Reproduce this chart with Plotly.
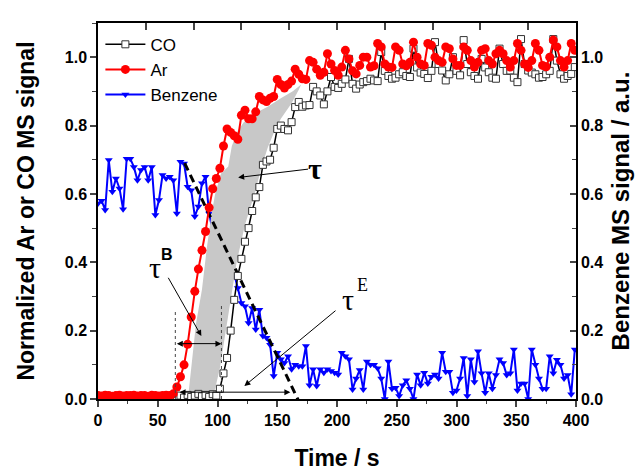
import plotly.graph_objects as go

# ---------------- data ----------------
time_s = list(range(0, 400, 3))  # sampling every 3 s (134 samples)

ar_signal = [
    0.010, 0.009, 0.011, 0.010, 0.008, 0.010, 0.011, 0.009, 0.010, 0.010,
    0.011, 0.009, 0.010, 0.010, 0.008, 0.011, 0.010, 0.009, 0.010, 0.011,
    0.010, 0.015, 0.035, 0.065, 0.100, 0.160, 0.240, 0.315, 0.380, 0.435,
    0.490, 0.560, 0.615, 0.645, 0.675, 0.740, 0.790, 0.780, 0.770, 0.760,
    0.830, 0.845, 0.820, 0.820, 0.840, 0.885, 0.875, 0.870, 0.880, 0.885,
    0.935, 0.920, 0.910, 0.920, 0.930, 0.965, 0.950, 0.937, 0.935, 0.990,
    0.985, 0.965, 0.947, 0.956, 1.010, 0.980, 0.961, 0.947, 0.971, 1.020,
    0.995, 0.960, 0.951, 0.976, 1.000, 1.000, 0.971, 0.975, 1.040, 1.030,
    0.980, 0.971, 0.970, 1.030, 1.020, 0.980, 0.975, 0.985, 1.044, 1.000,
    0.980, 0.976, 1.040, 1.035, 1.000, 0.990, 0.985, 1.030, 1.025, 0.995,
    0.976, 0.976, 1.030, 1.020, 0.990, 0.971, 0.985, 1.020, 1.025, 0.990,
    0.980, 1.010, 1.020, 1.010, 0.990, 0.971, 0.990, 1.040, 1.020, 0.980,
    0.970, 0.990, 1.040, 1.020, 0.976, 0.972, 1.000, 1.050, 1.030, 0.990,
    0.971, 0.990, 1.040, 1.020,
]

co_signal = [
    0.0, 0.0, 0.0, 0.0, 0.0, 0.0, 0.0, 0.0, 0.0, 0.0,
    0.0, 0.0, 0.0, 0.0, 0.0, 0.0, 0.0, 0.0, 0.0, 0.0,
    0.0, 0.0, 0.005, 0.010, 0.004, 0.012, 0.006, 0.010, 0.015, 0.008,
    0.012, 0.006, 0.014, 0.010, 0.030, 0.075, 0.120, 0.200, 0.290, 0.360,
    0.410, 0.460, 0.500, 0.550, 0.590, 0.620, 0.685, 0.695, 0.700, 0.735,
    0.790, 0.800, 0.790, 0.786, 0.810, 0.854, 0.869, 0.855, 0.859, 0.860,
    0.913, 0.900, 0.888, 0.862, 0.900, 0.942, 0.913, 0.910, 0.922, 0.935,
    0.995, 0.922, 0.908, 0.920, 0.927, 0.930, 0.937, 0.932, 0.930, 1.015,
    0.960, 0.945, 0.937, 0.940, 0.950, 0.956, 0.945, 0.942, 1.025, 0.970,
    0.955, 0.951, 0.939, 0.960, 1.044, 0.980, 0.961, 0.932, 0.950, 1.000,
    0.960, 0.947, 1.050, 0.980, 0.956, 0.945, 0.937, 0.995, 0.970, 0.956,
    0.940, 0.937, 1.025, 0.980, 0.960, 0.961, 0.940, 0.927, 1.053, 0.980,
    0.961, 0.955, 0.950, 0.940, 0.942, 0.950, 0.960, 1.053, 0.990, 0.950,
    0.937, 0.945, 0.951, 0.971,
]

benzene_signal = [
    0.572, 0.580, 0.553, 0.699, 0.606, 0.645, 0.616, 0.555, 0.703, 0.703,
    0.679, 0.640, 0.670, 0.679, 0.640, 0.679, 0.538, 0.582, 0.655, 0.645,
    0.650, 0.640, 0.543, 0.694, 0.689, 0.621, 0.611, 0.534, 0.563, 0.631,
    0.650, 0.543, 0.490, 0.460, 0.430, 0.410, 0.390, 0.375, 0.364, 0.325,
    0.281, 0.271, 0.222, 0.266, 0.203, 0.261, 0.184, 0.179, 0.159, 0.067,
    0.135, 0.116, 0.105, 0.125, 0.087, 0.100, 0.096, 0.096, 0.155, 0.040,
    0.087, 0.038, 0.087, 0.077, 0.087, 0.082, 0.077, 0.072, 0.135, 0.125,
    0.116, 0.028, 0.060, 0.085, 0.028, 0.110, 0.100, 0.100, 0.090, 0.060,
    0.000, 0.110, 0.030, 0.033, 0.009, 0.040, 0.055, 0.030, 0.000, 0.072,
    0.040, 0.077, 0.045, 0.065, 0.072, 0.060, 0.135, 0.080, 0.080, 0.018,
    0.025, 0.060, 0.120, 0.009, 0.116, 0.050, 0.140, 0.075, 0.018, 0.075,
    0.030, 0.070, 0.116, 0.105, 0.070, 0.075, 0.145, 0.025, 0.045, 0.045,
    0.000, 0.145, 0.100, 0.060, 0.030, 0.030, 0.125, 0.075, 0.115, 0.100,
    0.060, 0.070, 0.014, 0.145,
]

# shaded region (tau) between Ar and CO responses
tau_area_t = [76, 79, 82, 87, 91, 95, 98, 103, 109, 112, 117, 122, 131, 142, 153, 163, 170,
              168, 162, 153, 148, 142, 137, 131, 123, 116, 110, 106, 102, 98, 96, 78]
tau_area_y = [0.025, 0.12, 0.22, 0.32, 0.44, 0.54, 0.60, 0.66, 0.68, 0.74, 0.785, 0.81, 0.835,
              0.855, 0.88, 0.90, 0.92,
              0.905, 0.865, 0.82, 0.786, 0.735, 0.68, 0.60, 0.51, 0.40, 0.27, 0.17, 0.09,
              0.03, 0.01, 0.01]

# linear decay guide for benzene
benzene_fit_t = [72.5, 168.5]
benzene_fit_y = [0.69, -0.01]

# tau^B / tau^E markers (time positions)
tauB_start, tauB_end = 64.7, 103.3
tauE_start, tauE_end = 67.0, 161.0

# ---------------- figure ----------------
fig = go.Figure()

fig.add_trace(go.Scatter(
    x=time_s, y=benzene_signal, name="Benzene", mode="lines+markers",
    line=dict(color="#0000ff", width=2),
    marker=dict(symbol="triangle-down", size=7, color="#0000ff"),
    legendrank=3, yaxis="y2"))

fig.add_trace(go.Scatter(
    x=tau_area_t, y=tau_area_y, fill="toself", mode="lines",
    fillcolor="#c8c8c8", line=dict(width=0, color="#c8c8c8"),
    showlegend=False, hoverinfo="skip", yaxis="y2"))

fig.add_trace(go.Scatter(
    x=benzene_fit_t, y=benzene_fit_y, mode="lines",
    line=dict(color="black", width=3, dash="8px,5px"),
    showlegend=False, hoverinfo="skip", yaxis="y2"))

fig.add_trace(go.Scatter(
    x=time_s, y=co_signal, name="CO", mode="lines+markers",
    line=dict(color="black", width=1.5),
    marker=dict(symbol="square", size=7, color="white",
                line=dict(color="#333333", width=1)),
    legendrank=1, yaxis="y2"))

fig.add_trace(go.Scatter(
    x=time_s, y=ar_signal, name="Ar", mode="lines+markers",
    line=dict(color="#ff0000", width=2),
    marker=dict(symbol="circle", size=9, color="#ff0000"),
    legendrank=2, yaxis="y2"))

# empty traces so the left and top axes exist as subplots
fig.add_trace(go.Scatter(x=[], y=[], showlegend=False, hoverinfo="skip"))
fig.add_trace(go.Scatter(x=[], y=[], xaxis="x2", showlegend=False, hoverinfo="skip"))

tick_font = dict(family="Arial, Liberation Sans", size=16, color="black", weight="bold")
title_font = dict(family="Arial, Liberation Sans", size=23, color="black", weight="bold")
title_font_r = dict(family="Arial, Liberation Sans", size=24, color="black", weight="bold")

fig.update_layout(
    width=644, height=471,
    margin=dict(l=90, r=76, t=15, b=78),
    paper_bgcolor="white", plot_bgcolor="white",
    showlegend=True,
    legend=dict(x=0.005, y=0.99, xanchor="left", yanchor="top",
                bgcolor="rgba(0,0,0,0)", itemwidth=40, tracegroupgap=0,
                font=dict(family="Arial, Liberation Sans", size=17, color="black")),
    xaxis=dict(range=[0, 400], tick0=0, dtick=50, ticks="outside", ticklen=6, tickwidth=1.5,
               showline=True, linewidth=1.5, linecolor="black", showgrid=False, zeroline=False,
               tickfont=tick_font,
               minor=dict(dtick=25, ticks="outside", ticklen=3.5, tickwidth=1.2, showgrid=False),
               title=dict(text="Time / s", font=title_font, standoff=22)),
    xaxis2=dict(range=[0, 400], overlaying="x", side="top", anchor="y", tick0=0, dtick=40,
                ticks="inside", ticklen=7, tickwidth=1.5, showticklabels=False,
                showline=True, linewidth=1.5, linecolor="black", showgrid=False, zeroline=False),
    yaxis=dict(range=[0, 1.1], tick0=0, dtick=0.2, tickformat=".1f", ticks="outside",
               ticklen=6, tickwidth=1.5, showline=True, linewidth=1.5, linecolor="black",
               showgrid=False, zeroline=False, tickfont=tick_font,
               minor=dict(dtick=0.1, ticks="outside", ticklen=4, tickwidth=1.2, showgrid=False),
               title=dict(text="Normalized Ar or CO MS signal", font=title_font, standoff=24)),
    yaxis2=dict(range=[0, 1.1], overlaying="y", side="right", anchor="x", tick0=0, dtick=0.2,
                tickformat=".1f", ticks="inside", ticklen=6, tickwidth=1.5, showline=True,
                linewidth=1.5, linecolor="black", showgrid=False, zeroline=False,
                tickfont=tick_font,
                minor=dict(dtick=0.1, ticks="inside", ticklen=4, tickwidth=1.2, showgrid=False),
                title=dict(text="Benzene MS signal / a.u.", font=title_font_r, standoff=10)),
)

serif = "Liberation Serif, Times New Roman, serif"
arrow_common = dict(xref="x", yref="y2", axref="x", ayref="y2", text="", showarrow=True,
                    arrowcolor="black", arrowwidth=1, arrowsize=1.2, arrowhead=2, standoff=0)

fig.add_annotation(x=181.5, y=0.675, xref="x", yref="y2", text="τ", showarrow=False,
                   font=dict(family=serif, size=30, color="black", weight="bold"))
fig.add_annotation(x=117.3, y=0.648, ax=177.0, ay=0.673, **arrow_common)

fig.add_annotation(x=47.5, y=0.385, xref="x", yref="y2", text="τ", showarrow=False,
                   font=dict(family=serif, size=30, color="black"))
fig.add_annotation(x=57.5, y=0.422, xref="x", yref="y2", text="B", showarrow=False,
                   font=dict(family="Arial, Liberation Sans", size=16, color="black", weight="bold"))
fig.add_annotation(x=86.5, y=0.184, ax=58.1, ay=0.359, **arrow_common)
fig.add_annotation(x=tauB_end, y=0.162, ax=tauB_start, ay=0.162, arrowside="end+start",
                   **arrow_common)

fig.add_annotation(x=209.4, y=0.29, xref="x", yref="y2", text="τ", showarrow=False,
                   font=dict(family=serif, size=30, color="black"))
fig.add_annotation(x=221.5, y=0.334, xref="x", yref="y2", text="E", showarrow=False,
                   font=dict(family=serif, size=18, color="black"))
fig.add_annotation(x=122.5, y=0.038, ax=200.0, ay=0.262, **arrow_common)
fig.add_annotation(x=tauE_end, y=0.02, ax=tauE_start, ay=0.02, arrowside="end+start",
                   **arrow_common)

for xv, ytop in [(tauB_start, 0.26), (tauB_end, 0.28)]:
    fig.add_shape(type="line", xref="x", yref="y2", x0=xv, x1=xv, y0=0, y1=ytop,
                  line=dict(color="#444444", width=1, dash="dot"))

fig.write_html("out.html")
